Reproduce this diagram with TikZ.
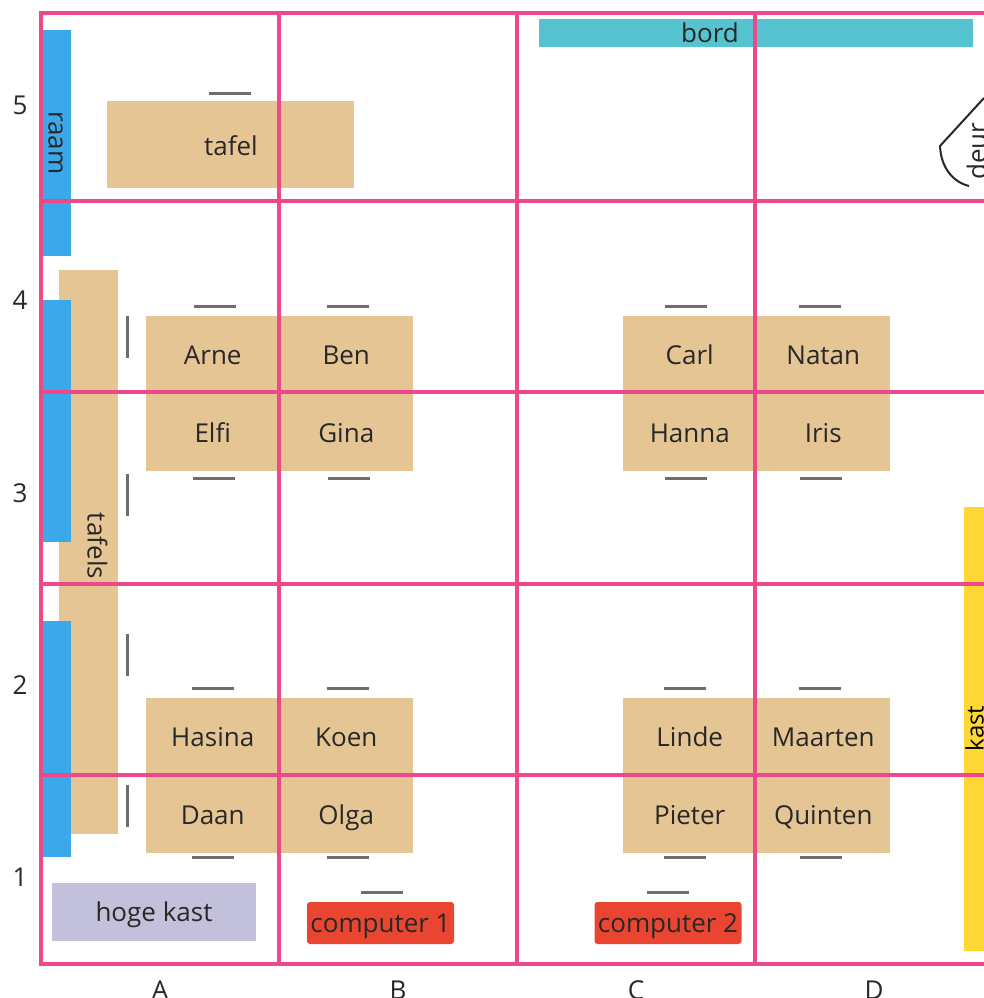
\documentclass[tikz,border=0pt]{standalone}
\usepackage{fontspec}
\setmainfont{Open Sans}
\definecolor{gridpink}{RGB}{236,72,138}
\definecolor{raamblue}{RGB}{59,169,233}
\definecolor{tafeltan}{RGB}{229,197,148}
\definecolor{bordcyan}{RGB}{85,195,208}
\definecolor{kastlav}{RGB}{194,192,218}
\definecolor{compred}{RGB}{233,69,48}
\definecolor{kastyel}{RGB}{253,216,53}
\definecolor{chairgray}{RGB}{110,110,110}
\definecolor{txtgray}{RGB}{40,40,40}
\begin{document}
\begin{tikzpicture}[x=1pt,y=-1pt,
  every node/.style={font=\fontsize{26}{30}\selectfont, text=txtgray, inner sep=0pt},
  lbl/.style={text height=18.5pt, text depth=0pt},
  desk/.style={lbl, fill=tafeltan, minimum width=133.5pt, minimum height=77.5pt},
  desklow/.style={desk, text height=21pt},
  chairh/.style={fill=chairgray, minimum width=42pt, minimum height=3pt},
  chairv/.style={fill=chairgray, minimum width=3pt, minimum height=42pt},
  raamseg/.style={fill=raamblue, minimum width=28pt, minimum height=#1},
  compbox/.style={lbl, fill=compred, rounded corners=3pt, minimum width=147pt, minimum height=42pt},
  gridline/.style={draw=gridpink, line width=4.5pt},
  deurline/.style={draw=txtgray, line width=2pt}
]
\useasboundingbox (0,0) rectangle (983,998);
\fill[white] (0,0) rectangle (983,998);

% tafels strip and windows
\node[fill=tafeltan, minimum width=59pt, minimum height=564pt] (tafels) at (88.5,552) {};
\node[rotate=-90] (tafelstxt) at (97.5,546) {tafels};
\node[raamseg=226pt] (raam1) at (57,143) {};
\node[raamseg=242pt] (raam2) at (57,421) {};
\node[raamseg=236pt] (raam3) at (57,739) {};
\node[rotate=-90] (raamtxt) at (55.5,143) {raam};

% tafel
\node[fill=tafeltan, minimum width=247pt, minimum height=87pt] (tafel) at (230.5,144.5) {};
\node[lbl] (tafeltxt) at (231,146) {tafel};

% bord
\node[fill=bordcyan, minimum width=434pt, minimum height=28pt] (bord) at (756,33) {};
\node[lbl] (bordtxt) at (710,33) {bord};

% deur
\draw[deurline] (984,98) -- (940,146) .. controls (941,168) and (953,182) .. (969,186);
\node[rotate=90] (deurtxt) at (976.5,151) {deur};

% kast
\node[fill=kastyel, minimum width=31pt, minimum height=444pt] (kast) at (979.5,729) {};
\node[rotate=90, font=\fontsize{24}{28}\selectfont, text=black] (kasttxt) at (974.5,728.5) {kast};

% desks
\node[desk] (arne) at (212.75,354.75) {Arne};
\node[desk] (ben) at (346.25,354.75) {Ben};
\node[desklow] (elfi) at (212.75,432.25) {Elfi};
\node[desklow] (gina) at (346.25,432.25) {Gina};
\node[desk] (carl) at (689.75,354.75) {Carl};
\node[desk] (natan) at (823.25,354.75) {Natan};
\node[desklow] (hanna) at (689.75,432.25) {Hanna};
\node[desklow] (iris) at (823.25,432.25) {Iris};
\node[desk] (hasina) at (212.75,736.75) {Hasina};
\node[desk] (koen) at (346.25,736.75) {Koen};
\node[desklow] (daan) at (212.75,814.25) {Daan};
\node[desklow] (olga) at (346.25,814.25) {Olga};
\node[desk] (linde) at (689.75,736.75) {Linde};
\node[desk] (maarten) at (823.25,736.75) {Maarten};
\node[desklow] (pieter) at (689.75,814.25) {Pieter};
\node[desklow] (quinten) at (823.25,814.25) {Quinten};

% hoge kast and computers
\node[lbl, fill=kastlav, minimum width=204pt, minimum height=58pt] (hogekast) at (154,912) {hoge kast};
\node[compbox] (comp1) at (380.5,923) {computer 1};
\node[compbox] (comp2) at (668,923) {computer 2};

% chairs
\node[chairh] (ch0) at (229.5,93) {};
\node[chairh] (ch1) at (215,306) {};
\node[chairh] (ch2) at (348,306) {};
\node[chairh] (ch3) at (686,306) {};
\node[chairh] (ch4) at (820,306) {};
\node[chairh] (ch5) at (214,478) {};
\node[chairh] (ch6) at (349,478) {};
\node[chairh] (ch7) at (686,478) {};
\node[chairh] (ch8) at (821,478) {};
\node[chairh] (ch9) at (213,688) {};
\node[chairh] (ch10) at (348,688) {};
\node[chairh] (ch11) at (685,688) {};
\node[chairh] (ch12) at (820,688) {};
\node[chairh] (ch13) at (213,857) {};
\node[chairh] (ch14) at (348,857) {};
\node[chairh] (ch15) at (685,857) {};
\node[chairh] (ch16) at (821,857) {};
\node[chairh] (ch17) at (381.5,892) {};
\node[chairh] (ch18) at (668,892) {};
\node[chairv] (cv1) at (127,337) {};
\node[chairv] (cv2) at (127,495) {};
\node[chairv] (cv3) at (127,655) {};
\node[chairv] (cv4) at (127,806) {};

% grid
\draw[gridline] (41,13) rectangle (993,964);
\foreach \gx in {279,517,755} \draw[gridline] (\gx,13) -- (\gx,964);
\foreach \gy in {201,392,584,775} \draw[gridline] (41,\gy) -- (993,\gy);

% axis labels
\node[lbl] (r5) at (20,105) {5};
\node[lbl] (r4) at (20,300) {4};
\node[lbl] (r3) at (20,493) {3};
\node[lbl] (r2) at (20,685) {2};
\node[lbl] (r1) at (20,877) {1};
\node[lbl] (ca) at (160,990) {A};
\node[lbl] (cb) at (398,990) {B};
\node[lbl] (cc) at (636,990) {C};
\node[lbl] (cd) at (874,990) {D};
\end{tikzpicture}
\end{document}
